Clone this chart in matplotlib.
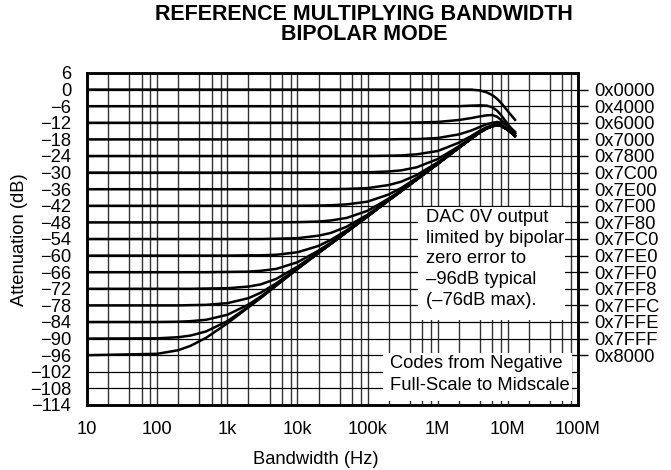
import numpy as np
import matplotlib
matplotlib.use("Agg")
import matplotlib.pyplot as plt
from matplotlib.patches import Rectangle
from matplotlib.ticker import LogLocator, NullFormatter

plt.rcParams['font.family'] = ['Liberation Sans', 'DejaVu Sans']

# frequency points (Hz) shared by all curves
freq_hz = [10, 100, 200, 300, 500, 1e3, 2e3, 3e3, 5e3, 1e4, 2e4, 3e4, 5e4,
           1e5, 2e5, 3e5, 5e5, 1e6, 2e6, 3e6, 4e6, 5e6, 6e6, 7e6, 8e6, 1e7, 1.3e7]

# common high frequency tail (from 2 MHz)
tail = [-21.0, -17.7, -15.4, -14.0, -13.2, -12.9, -13.1, -14.5, -17.0]

# attenuation (dB) per code
att_0000 = [0] * 20 + [-0.3, -1.0, -2.0, -3.3, -4.8, -7.8, -11.3]
att_4000 = [-6] * 19 + [-5.8, -5.7, -5.8, -6.4, -7.6, -9.2, -12.5, -16.3]
att_6000 = [-12] * 16 + [-11.9, -11.7, -11.0, -10.3, -9.7, -9.3, -9.2, -9.8,
                         -11.0, -13.0, -15.8]
att_7000 = [-18] * 15 + [-17.9, -17.9, -17.5, -16.2, -14.8, -13.5, -12.5, -12.0,
                         -11.7, -11.9, -12.9, -15.5]
att_7800 = [-24] * 14 + [-23.9, -23.8, -23.4, -22.2, -19.2, -16.8, -14.8, -13.6,
                         -12.9, -12.6, -12.8, -14.0, -16.2]
att_7C00 = [-30] * 13 + [-29.9, -29.6, -29.2, -28.1, -25.1, -20.5, -17.5, -15.3,
                         -13.9, -13.1, -12.8, -13.0, -14.4, -16.8]
att_7E00 = [-36] * 12 + [-35.9, -35.6, -34.5, -33.3, -30.9, -26.3] + tail
att_7F00 = [-42] * 10 + [-41.9, -41.8, -41.5, -40.5, -37.9, -35.6, -32.0, -26.7] + tail
att_7F80 = [-48] * 9 + [-47.9, -47.7, -47.3, -46.4, -43.8, -39.4, -36.4, -32.4,
                        -26.8] + tail
att_7FC0 = [-54] * 8 + [-53.9, -53.7, -52.8, -51.8, -49.6, -45.2, -39.8, -36.7,
                        -32.5, -26.8] + tail
att_7FE0 = [-60] * 6 + [-59.9, -59.9, -59.7, -58.8, -56.5, -54.3, -50.9, -45.6,
                        -40.0, -36.7, -32.5, -26.8] + tail
att_7FF0 = [-66] * 5 + [-65.9, -65.8, -65.5, -64.8, -62.4, -58.2, -55.3, -51.4,
                        -45.8, -40.0, -36.7, -32.5, -26.8] + tail
att_7FF8 = [-72] * 4 + [-71.9, -71.8, -71.2, -70.4, -68.4, -64.0, -58.8, -55.7,
                        -51.5, -45.8, -40.0, -36.7, -32.5, -26.8] + tail
att_7FFC = [-78] * 3 + [-77.9, -77.8, -77.2, -75.4, -73.4, -70.0, -64.6, -59.0,
                        -55.7, -51.5, -45.8, -40.0, -36.7, -32.5, -26.8] + tail
att_7FFE = [-84] * 2 + [-83.9, -83.7, -83.2, -81.4, -77.7, -74.8, -70.6, -64.8,
                        -59.0, -55.7, -51.5, -45.8, -40.0, -36.7, -32.5, -26.8] + tail
att_7FFF = [-90.0, -89.9, -89.5, -88.9, -87.4, -83.7, -78.5, -75.2, -70.8, -64.8,
            -59.0, -55.7, -51.5, -45.8, -40.0, -36.7, -32.5, -26.8] + tail
att_8000 = [-96.0, -95.5, -94.2, -92.6, -89.7, -84.5, -78.7, -75.3, -70.8, -64.8,
            -59.0, -55.7, -51.5, -45.8, -40.0, -36.7, -32.5, -26.8] + tail

curves = [att_0000, att_4000, att_6000, att_7000, att_7800, att_7C00, att_7E00,
          att_7F00, att_7F80, att_7FC0, att_7FE0, att_7FF0, att_7FF8, att_7FFC,
          att_7FFE, att_7FFF, att_8000]

# right axis: code labels at their flat levels
code_labels = ["0x0000", "0x4000", "0x6000", "0x7000", "0x7800", "0x7C00",
               "0x7E00", "0x7F00", "0x7F80", "0x7FC0", "0x7FE0", "0x7FF0",
               "0x7FF8", "0x7FFC", "0x7FFE", "0x7FFF", "0x8000"]
code_levels = [0, -6, -12, -18, -24, -30, -36, -42, -48, -54, -60, -66, -72,
               -78, -84, -90, -96]

# left axis ticks
y_ticks = list(range(6, -115, -6))
x_ticks = [10, 100, 1e3, 1e4, 1e5, 1e6, 1e7, 1e8]
x_labels = ["10", "100", "1k", "10k", "100k", "1M", "10M", "100M"]

fs = 13.2

fig = plt.figure(figsize=(6.71, 4.70), dpi=100)
ax = fig.add_axes([0.1297, 0.1383, 0.7317, 0.7064])

for c in curves:
    ax.plot(freq_hz, c, color="black", lw=1.8, solid_capstyle="butt", zorder=3)

ax.set_xscale("log")
ax.set_xlim(10, 1e8)
ax.set_ylim(-114, 6)

ax.set_xticks(x_ticks)
ax.set_xticklabels(x_labels, fontsize=fs)
ax.xaxis.set_minor_locator(LogLocator(base=10, subs=[2, 4, 6, 8]))
ax.xaxis.set_minor_formatter(NullFormatter())
ax.set_yticks(y_ticks)
ax.set_yticklabels([str(v).replace("-", "\u2212") for v in y_ticks], fontsize=fs)
ax.tick_params(axis="both", which="both", length=0)
ax.tick_params(axis="y", pad=11.5)
ax.tick_params(axis="x", pad=11.5)

ax.set_axisbelow(True)
ax.grid(which="both", axis="x", color="0.2", lw=1.0)
ax.grid(which="major", axis="y", color="black", lw=0.9)
for s in ax.spines.values():
    s.set_linewidth(1.8)

# white boxes for the notes
ax.add_patch(Rectangle((0.674, 0.256), 0.300, 0.340, transform=ax.transAxes,
                       facecolor="white", edgecolor="none", zorder=1))
ax.add_patch(Rectangle((0.603, 0.012), 0.384, 0.145, transform=ax.transAxes,
                       facecolor="white", edgecolor="none", zorder=1))
ax.text(0.690, 0.591, "DAC 0V output\nlimited by bipolar\nzero error to\n"
        "\u201396dB typical\n(\u201376dB max).", transform=ax.transAxes,
        ha="left", va="top", fontsize=fs, linespacing=1.29, zorder=4)
ax.text(0.617, 0.150, "Codes from Negative\nFull-Scale to Midscale",
        transform=ax.transAxes, ha="left", va="top", fontsize=fs,
        linespacing=1.36, zorder=4)

# code labels on the right
ax2 = ax.twinx()
ax2.set_ylim(-114, 6)
ax2.set_yticks(code_levels)
ax2.set_yticklabels(code_labels, fontsize=fs)
ax2.tick_params(axis="y", direction="out", length=7, width=1, pad=4.5)
for s in ax2.spines.values():
    s.set_linewidth(1.8)

fig.text(364 / 671, 1 - 15 / 470, "REFERENCE MULTIPLYING BANDWIDTH",
         ha="center", va="center", fontsize=15.5, fontweight="bold")
fig.text(364 / 671, 1 - 35 / 470, "BIPOLAR MODE",
         ha="center", va="center", fontsize=15.5, fontweight="bold")
fig.text(316 / 671, 1 - 459 / 470, "Bandwidth (Hz)", ha="center", va="center",
         fontsize=fs)
fig.text(20 / 671, 1 - 240 / 470, "Attenuation (dB)", ha="center", va="center",
         rotation=90, fontsize=fs)

fig.savefig("out.png", dpi=100)
